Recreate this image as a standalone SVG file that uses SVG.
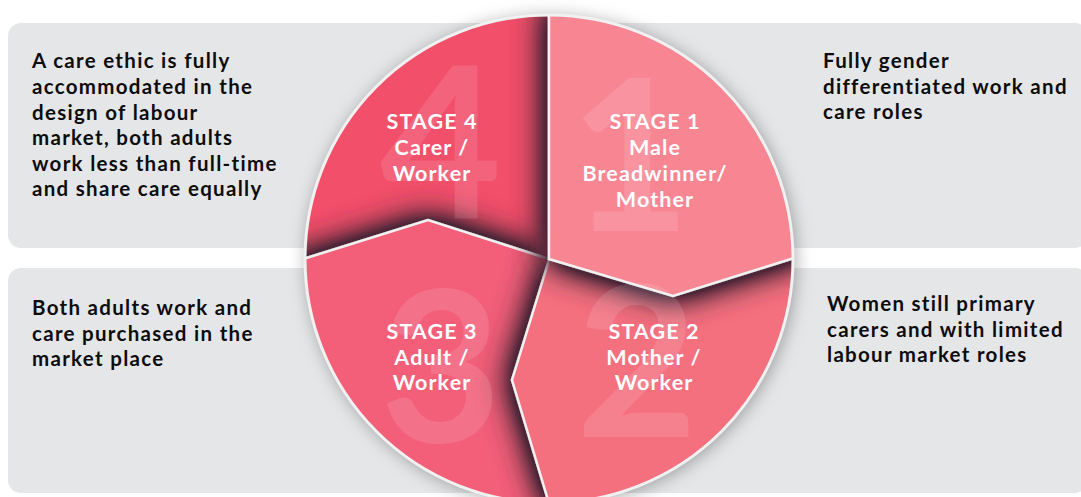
<svg xmlns="http://www.w3.org/2000/svg" width="1081" height="497" viewBox="0 0 1081 497">
<defs>
<style>
.bar{fill:#e5e6e8}
.desc{font-family:"Lato","Liberation Sans",sans-serif;font-weight:bold;font-size:20.5px;letter-spacing:1.3px;fill:#0d0d0d}
.lbl{font-family:"Lato","Liberation Sans",sans-serif;font-weight:bold;font-size:21.5px;letter-spacing:1.1px;fill:#ffffff;text-anchor:middle}
.big{font-family:"Lato","Liberation Sans",sans-serif;font-weight:bold;font-size:210px;fill:#ffffff;fill-opacity:0.12;text-anchor:middle}
.seg{stroke:#f1f1f1;stroke-width:2.5;stroke-linejoin:miter}
</style>
<clipPath id="pie"><circle cx="549" cy="259" r="244"/></clipPath>
<filter id="sh" x="-40%" y="-40%" width="180%" height="180%">
<feGaussianBlur in="SourceAlpha" stdDeviation="17" result="b"/>
<feColorMatrix in="b" type="matrix" values="0 0 0 0 0.08  0 0 0 0 0.02  0 0 0 0 0.04  0 0 0 2.3 0" result="s"/>
<feMerge><feMergeNode in="s"/><feMergeNode in="SourceGraphic"/></feMerge>
</filter>
<filter id="outer" x="-20%" y="-20%" width="140%" height="140%">
<feGaussianBlur in="SourceAlpha" stdDeviation="9"/>
<feColorMatrix type="matrix" values="0 0 0 0 0  0 0 0 0 0  0 0 0 0 0  0 0 0 0.35 0"/>
</filter>
</defs>
<rect width="1081" height="497" fill="#ffffff"/>
<g id="bars">
<rect class="bar" x="8" y="23" width="1080" height="225" rx="13"/>
<rect class="bar" x="8" y="268" width="1080" height="225" rx="13"/>
</g>
<circle cx="551" cy="261" r="244" fill="#000" filter="url(#outer)"/>
<g id="pie-segments" clip-path="url(#pie)">
<g id="stage4"><path class="seg" d="M290,5 L549,5 L549,259 L290,259 Z" fill="#f24f6a"/></g>
<g id="stage3"><path class="seg" d="M300,260 L428,220 L549,259 L549,510 L290,510 L290,263 Z" fill="#f35f79" filter="url(#sh)"/></g>
<g id="stage2"><path class="seg" d="M549,260 L512,380 L551,510 L810,510 L810,256 Z" fill="#f5707f" filter="url(#sh)"/></g>
<g id="stage1"><path class="seg" d="M549,5 L549,259 L673,296 L810,253 L810,5 Z" fill="#f88592" filter="url(#sh)"/></g>
</g>
<circle cx="549" cy="259" r="244" fill="none" stroke="#f1f1f1" stroke-width="3"/>
<g id="numerals">
<text class="big" x="630" y="231">1</text>
<text class="big" x="637" y="437">2</text>
<text class="big" x="441" y="442">3</text>
<text class="big" x="441" y="218">4</text>
</g>
<g id="label1"><text class="lbl" x="655" y="129">STAGE 1<tspan x="655" y="155">Male</tspan><tspan x="655" y="181">Breadwinner/</tspan><tspan x="655" y="207">Mother</tspan></text></g>
<g id="label2"><text class="lbl" x="654" y="339">STAGE 2<tspan x="654" y="365">Mother /</tspan><tspan x="654" y="390">Worker</tspan></text></g>
<g id="label3"><text class="lbl" x="432" y="339">STAGE 3<tspan x="432" y="365">Adult /</tspan><tspan x="432" y="390">Worker</tspan></text></g>
<g id="label4"><text class="lbl" x="432" y="129">STAGE 4<tspan x="432" y="155">Carer /</tspan><tspan x="432" y="181">Worker</tspan></text></g>
<g id="desc4"><text class="desc" x="32" y="68">A care ethic is fully<tspan x="32" y="94">accommodated in the</tspan><tspan x="32" y="120">design of labour</tspan><tspan x="32" y="145">market, both adults</tspan><tspan x="32" y="171">work less than full-time</tspan><tspan x="32" y="196">and share care equally</tspan></text></g>
<g id="desc1"><text class="desc" x="823" y="68">Fully gender<tspan x="823" y="94">differentiated work and</tspan><tspan x="823" y="119">care roles</tspan></text></g>
<g id="desc3"><text class="desc" x="32" y="315">Both adults work and<tspan x="32" y="341">care purchased in the</tspan><tspan x="32" y="366">market place</tspan></text></g>
<g id="desc2"><text class="desc" x="827" y="311">Women still primary<tspan x="827" y="337">carers and with limited</tspan><tspan x="827" y="362">labour market roles</tspan></text></g>
</svg>
